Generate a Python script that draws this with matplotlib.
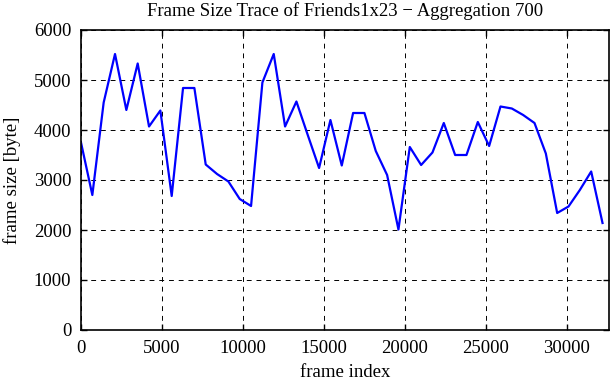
import matplotlib
matplotlib.use('Agg')
import matplotlib.pyplot as plt

plt.rcParams['font.family'] = ['Liberation Serif', 'DejaVu Serif']

# frame index (aggregation of 700 frames)
frame_idx = [0, 700, 1400, 2100, 2800, 3500, 4200, 4900, 5600, 6300,
             7000, 7700, 8400, 9100, 9800, 10500, 11200, 11900, 12600, 13300,
             14000, 14700, 15400, 16100, 16800, 17500, 18200, 18900, 19600, 20300,
             21000, 21700, 22400, 23100, 23800, 24500, 25200, 25900, 26600, 27300,
             28000, 28700, 29400, 30100, 30800, 31500, 32200]
frame_size = [3750, 2700, 4550, 5520, 4400, 5330, 4070, 4390, 2680, 4840,
              4840, 3310, 3120, 2970, 2620, 2480, 4950, 5520, 4070, 4570,
              3900, 3240, 4200, 3290, 4340, 4340, 3580, 3100, 2010, 3660,
              3300, 3550, 4140, 3500, 3500, 4160, 3680, 4470, 4430, 4300,
              4140, 3530, 2340, 2470, 2800, 3170, 2140]

xticks = [0, 5000, 10000, 15000, 20000, 25000, 30000]
yticks = [0, 1000, 2000, 3000, 4000, 5000, 6000]

fig = plt.figure(figsize=(6.11, 3.80), dpi=100)
ax = fig.add_axes([81/611, 1 - 330/380, (609 - 81)/611, 300/380])

ax.plot(frame_idx, frame_size, color='#0000ff', lw=1.6)

ax.set_xlim(0, 32600)
ax.set_ylim(0, 6000)
ax.set_xticks(xticks)
ax.set_yticks(yticks)
ax.grid(True, color='black', lw=0.7, linestyle=(0, (5, 5)))
ax.tick_params(direction='in', top=True, right=True, length=4, width=1,
               labelsize=13.5, pad=7)
for s in ax.spines.values():
    s.set_linewidth(1.2)

ax.set_title('Frame Size Trace of Friends1x23 \u2212 Aggregation 700', fontsize=13.5, pad=10)
ax.set_xlabel('frame index', fontsize=13.5, labelpad=5)
ax.set_ylabel('frame size [byte]', fontsize=13.5, labelpad=9)

fig.savefig('out.png', dpi=100)
